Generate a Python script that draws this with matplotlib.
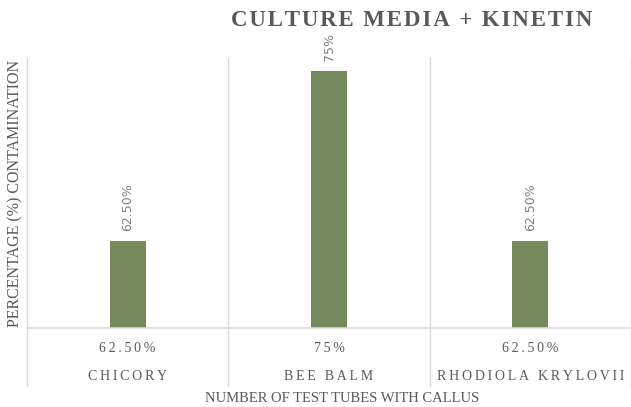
import numpy as np
import matplotlib.pyplot as plt
from matplotlib.lines import Line2D

# contamination per plant, culture media + kinetin
plants = ["CHICORY", "BEE BALM", "RHODIOLA KRYLOVII"]
contamination = [62.5, 75.0, 62.5]
value_labels = ["62.50%", "75%", "62.50%"]

bar_colour = "#768a5e"
grid_colour = "#d9d9d9"
text_colour = "#595959"

def spaced(s, gap="\u2009"):
    return gap.join(s)

fig = plt.figure(figsize=(6.31, 4.07), dpi=100)
W, H = 631, 407
left, right, base, top = 27, 631, 328, 58
ax = fig.add_axes([left / W, 1 - base / H, (right - left) / W, (base - top) / H])

x = np.arange(len(plants))
ax.bar(x, contamination, width=0.18, color=bar_colour, zorder=3)
ax.set_xlim(-0.5, len(plants) - 0.5)
ax.set_ylim(56.1, 75.95)
ax.set_xticks([])
ax.set_yticks([])
for s in ax.spines.values():
    s.set_visible(False)

# rotated data labels above each bar
for xi, v, lab in zip(x, contamination, value_labels):
    ax.annotate(lab, (xi, v), xytext=(0, 7), textcoords="offset points",
                rotation=90, ha="center", va="bottom", fontsize=9,
                color="#7f7f7f", family="DejaVu Sans")

# data-table style grid under the plot
cat_w = (right - left) / len(plants)
for i in range(len(plants) + 1):
    xp = (left + i * cat_w) / W
    fig.add_artist(Line2D([xp, xp], [1 - top / H, 1 - 386 / H],
                          color=grid_colour, lw=1))
fig.add_artist(Line2D([left / W, right / W], [1 - base / H, 1 - base / H],
                      color=grid_colour, lw=1.2))

for i, (name, lab) in enumerate(zip(plants, value_labels)):
    xc = (left + (i + 0.5) * cat_w) / W
    fig.text(xc, 1 - 348 / H, spaced(lab), ha="center", va="center",
             fontsize=10, color=text_colour, family="Liberation Serif")
    fig.text(xc, 1 - 377 / H, spaced(name), ha="center", va="center",
             fontsize=10, color=text_colour, family="Liberation Serif")

fig.text(342 / W, 1 - 398 / H, "NUMBER OF TEST TUBES WITH CALLUS",
         ha="center", va="center", fontsize=10.5, color=text_colour,
         family="Liberation Serif")
fig.text(15 / W, 1 - 193 / H, "PERCENTAGE (%) CONTAMINATION", rotation=90,
         ha="center", va="center", fontsize=11.5, color=text_colour,
         family="Liberation Serif")
fig.text(412 / W, 1 - 21 / H, spaced("CULTURE MEDIA + KINETIN", "\u200a"),
         ha="center", va="center", fontsize=16.5, fontweight="bold",
         color="#595959", family="Liberation Serif")

fig.savefig("out.png", dpi=100, facecolor="white")
